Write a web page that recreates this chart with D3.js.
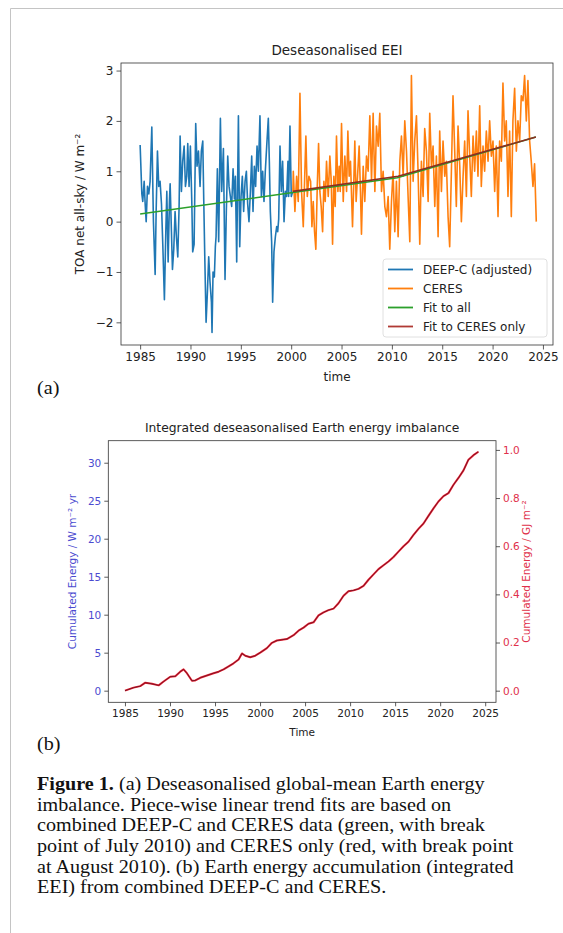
<!DOCTYPE html>
<html>
<head>
<meta charset="utf-8">
<style>
  body { margin: 0; background: #fff; }
  svg { display: block; }
  .tick text { font-family: "DejaVu Sans", sans-serif; fill: #222; }
  .domain { display: none; }
  .tick line { stroke: #333; stroke-width: 0.8px; }
  .caption { font-family: "Liberation Serif", "Times New Roman", serif; font-size: 18.5px; fill: #111; }
</style>
</head>
<body>
<div id="fig"></div>
<script src="https://cdn.jsdelivr.net/npm/d3@7"></script>
<script>
// DEEP-C (adjusted) deseasonalised EEI, [year, W m-2]
const deepc = [
  [1985.00,1.52],[1985.17,0.55],[1985.26,0.40],[1985.40,0.80],[1985.50,0.35],[1985.60,0.00],
  [1985.73,0.70],[1985.86,0.55],[1985.99,0.80],[1986.16,1.88],[1986.32,0.00],[1986.49,-1.05],
  [1986.59,0.20],[1986.72,1.40],[1986.85,0.70],[1986.98,0.80],[1987.12,0.35],[1987.25,-0.45],
  [1987.41,-1.55],[1987.55,-0.20],[1987.65,0.60],[1987.78,-0.80],[1987.91,0.40],[1987.98,0.75],
  [1988.11,-0.20],[1988.21,-0.95],[1988.34,-0.55],[1988.47,0.20],[1988.60,-0.30],[1988.74,-0.70],
  [1988.87,0.30],[1988.97,1.70],[1989.10,0.60],[1989.23,1.20],[1989.37,1.50],[1989.50,0.70],
  [1989.63,0.90],[1989.73,1.55],[1989.86,0.70],[1989.99,1.50],[1990.13,0.40],[1990.22,-0.60],
  [1990.36,-0.45],[1990.52,1.95],[1990.65,1.10],[1990.79,1.40],[1990.95,0.70],[1991.08,1.40],
  [1991.22,1.60],[1991.32,0.40],[1991.42,-0.70],[1991.55,-2.00],[1991.68,-1.40],[1991.81,-0.70],
  [1991.94,-1.20],[1992.08,-1.60],[1992.14,-2.20],[1992.24,-1.00],[1992.37,-1.10],[1992.47,-0.50],
  [1992.54,-0.30],[1992.67,1.05],[1992.80,-0.40],[1992.97,2.05],[1993.10,0.60],[1993.27,1.45],
  [1993.43,-1.15],[1993.56,0.20],[1993.70,1.30],[1993.83,0.70],[1993.96,0.50],[1994.09,0.30],
  [1994.23,1.05],[1994.36,0.45],[1994.46,0.90],[1994.59,-0.80],[1994.76,2.10],[1994.89,-0.50],
  [1995.02,0.50],[1995.15,0.90],[1995.28,0.20],[1995.42,0.80],[1995.55,1.00],[1995.68,0.35],
  [1995.81,0.00],[1995.95,0.60],[1996.08,1.30],[1996.21,0.20],[1996.34,1.10],[1996.47,0.70],
  [1996.61,1.50],[1996.74,1.00],[1996.90,2.10],[1997.04,0.50],[1997.17,1.00],[1997.30,0.40],
  [1997.43,1.00],[1997.57,1.50],[1997.73,2.05],[1997.83,1.20],[1997.93,0.20],[1998.06,-0.40],
  [1998.16,-1.60],[1998.29,-0.60],[1998.43,-0.30],[1998.56,-0.10],[1998.66,-0.20],[1998.76,0.05],
  [1998.89,1.50],[1999.02,0.60],[1999.15,1.20],[1999.29,0.00],[1999.42,0.60],[1999.55,0.50],
  [1999.68,1.20],[1999.75,0.50],[1999.88,1.90],[2000.01,0.50],[2000.15,0.60]
];

// CERES deseasonalised EEI, [year, W m-2]
const ceres = [
  [2000.17,0.60],[2000.21,1.00],[2000.37,0.20],[2000.54,0.90],[2000.70,0.40],[2000.87,2.55],
  [2001.03,0.60],[2001.20,-0.10],[2001.33,0.80],[2001.46,1.70],[2001.60,0.50],[2001.76,0.90],
  [2001.93,0.80],[2002.06,-0.10],[2002.19,0.40],[2002.32,-0.20],[2002.45,-0.55],[2002.59,0.70],
  [2002.72,1.55],[2002.85,0.60],[2002.98,0.30],[2003.12,-0.20],[2003.25,0.80],[2003.38,0.40],
  [2003.51,1.20],[2003.68,0.50],[2003.84,1.30],[2003.98,0.80],[2004.11,-0.45],[2004.24,0.90],
  [2004.37,0.30],[2004.50,1.70],[2004.64,0.60],[2004.77,1.10],[2004.87,0.60],[2005.00,1.95],
  [2005.17,0.40],[2005.33,1.30],[2005.50,0.60],[2005.63,1.80],[2005.76,0.90],[2005.89,1.20],
  [2006.09,-0.10],[2006.22,0.80],[2006.32,1.60],[2006.45,0.40],[2006.59,0.90],[2006.75,1.50],
  [2006.88,0.60],[2006.98,-0.25],[2007.15,1.10],[2007.31,0.40],[2007.48,1.30],[2007.64,1.00],
  [2007.81,2.10],[2007.98,0.80],[2008.14,2.15],[2008.31,0.60],[2008.47,1.90],[2008.64,1.50],
  [2008.80,2.15],[2008.97,0.60],[2009.13,1.00],[2009.30,0.30],[2009.46,0.10],[2009.63,0.50],
  [2009.79,-0.55],[2009.96,0.40],[2010.12,1.00],[2010.29,-0.20],[2010.45,0.80],[2010.62,-0.30],
  [2010.79,1.20],[2010.95,1.70],[2011.12,0.90],[2011.28,2.00],[2011.45,1.40],[2011.61,0.50],
  [2011.78,-0.40],[2011.94,2.90],[2012.11,0.80],[2012.27,1.60],[2012.44,2.10],[2012.60,1.00],
  [2012.77,-0.45],[2012.93,1.20],[2013.10,0.50],[2013.26,1.85],[2013.43,1.40],[2013.60,0.40],
  [2013.76,2.15],[2013.93,1.10],[2014.09,1.50],[2014.26,0.30],[2014.42,1.30],[2014.59,-0.30],
  [2014.75,1.80],[2014.92,0.60],[2015.08,1.60],[2015.25,0.90],[2015.41,1.20],[2015.58,0.10],
  [2015.74,-0.50],[2015.91,1.00],[2016.07,2.50],[2016.24,1.40],[2016.40,0.30],[2016.57,1.90],
  [2016.74,1.10],[2016.90,0.00],[2017.07,0.90],[2017.23,1.60],[2017.40,0.50],[2017.56,2.20],
  [2017.73,1.30],[2017.89,0.50],[2018.06,1.70],[2018.22,1.00],[2018.39,1.80],[2018.55,0.90],
  [2018.72,2.30],[2018.88,0.70],[2019.05,1.50],[2019.21,1.00],[2019.38,1.80],[2019.55,1.20],
  [2019.71,2.00],[2019.88,1.30],[2020.04,1.60],[2020.21,0.60],[2020.37,1.50],[2020.54,0.10],
  [2020.70,1.60],[2020.87,1.20],[2021.03,2.75],[2021.20,1.60],[2021.36,2.00],[2021.53,0.50],
  [2021.69,1.80],[2021.86,0.10],[2022.02,2.00],[2022.19,2.65],[2022.36,1.40],[2022.52,2.00],
  [2022.69,1.60],[2022.85,2.50],[2023.02,2.40],[2023.18,2.90],[2023.35,2.00],[2023.51,2.80],
  [2023.68,1.60],[2023.84,1.20],[2024.01,0.70],[2024.17,1.15],[2024.34,0.00]
];

// piece-wise linear fits
const fitAll = [[1985.00,0.15],[2010.54,0.87],[2024.30,1.68]];
const fitCeres = [[2000.17,0.60],[2010.62,0.90],[2024.30,1.68]];

// integrated EEI, [year, W m-2 yr]
const cumulated = [
  [1985.00,0.0],[1985.96,0.4],[1986.70,0.6],[1987.26,1.05],[1988.00,0.9],[1988.74,0.7],
  [1989.29,1.2],[1990.03,1.84],[1990.59,1.9],[1991.14,2.5],[1991.51,2.8],[1991.88,2.3],
  [1992.44,1.3],[1992.81,1.35],[1993.36,1.7],[1994.10,2.0],[1994.84,2.3],[1995.40,2.5],
  [1995.95,2.8],[1996.51,3.2],[1997.06,3.6],[1997.62,4.1],[1997.99,4.9],[1998.36,4.6],
  [1998.91,4.4],[1999.47,4.6],[2000.02,5.0],[2000.76,5.6],[2001.32,6.3],[2001.87,6.6],
  [2002.43,6.7],[2002.98,6.8],[2003.72,7.3],[2004.27,7.9],[2004.83,8.3],[2005.38,8.8],
  [2005.94,9.0],[2006.49,9.9],[2007.05,10.3],[2007.60,10.6],[2008.16,10.8],[2008.71,11.5],
  [2009.27,12.5],[2009.82,13.1],[2010.38,13.2],[2010.93,13.4],[2011.49,13.8],[2012.04,14.6],
  [2012.60,15.3],[2013.15,16.0],[2013.71,16.5],[2014.26,17.0],[2014.82,17.6],[2015.37,18.3],
  [2015.93,19.0],[2016.48,19.6],[2017.04,20.5],[2017.59,21.3],[2018.15,22.0],[2018.70,23.0],
  [2019.26,24.0],[2019.81,24.9],[2020.37,25.6],[2020.92,26.0],[2021.48,27.1],[2022.03,28.0],
  [2022.59,29.0],[2023.14,30.4],[2023.70,31.0],[2024.25,31.45]
];

const yearTicks = [1985, 1990, 1995, 2000, 2005, 2010, 2015, 2020, 2025];
const eeiTicks = [-2, -1, 0, 1, 2, 3];
const cumTicks = [0, 5, 10, 15, 20, 25, 30];
const gjTicks = [0, 0.2, 0.4, 0.6, 0.8, 1.0];
const legendNames = ["DEEP-C (adjusted)", "CERES", "Fit to all", "Fit to CERES only"];
const legendColors = ["#1f77b4", "#ff7f0e", "#2ca02c", "#b03a34"];
const captionLines = [
  ["Figure 1.", " (a) Deseasonalised global-mean Earth energy"],
  ["", "imbalance. Piece-wise linear trend fits are based on"],
  ["", "combined DEEP-C and CERES data (green, with break"],
  ["", "point of July 2010) and CERES only (red, with break point"],
  ["", "at August 2010). (b) Earth energy accumulation (integrated"],
  ["", "EEI) from combined DEEP-C and CERES."]
];
// W m-2 yr -> GJ m-2
const toGJ = 365.25 * 86400 / 1e9;

const W = 563, H = 933;
const svg = d3.select("#fig").append("svg").attr("width", W).attr("height", H);
const font = "DejaVu Sans, sans-serif";

// page frame
svg.append("path").attr("d", "M10.5,933 V8.5 H563")
  .attr("fill", "none").attr("stroke", "#c4c4c4").attr("stroke-width", 1);

/// ---------- panel (a) ----------
const a = { left: 121, right: 553, top: 63, bottom: 345 };
const xa = d3.scaleLinear().domain([1983.1, 2026.0]).range([a.left, a.right]);
const ya = d3.scaleLinear().domain([-2.45, 3.15]).range([a.bottom, a.top]);

svg.append("g").attr("transform", `translate(0,${a.bottom})`)
  .call(d3.axisBottom(xa).tickValues(yearTicks).tickFormat(d3.format("d")).tickSize(4.5).tickPadding(3))
  .selectAll("text").style("font-size", "12px");
svg.append("g").attr("transform", `translate(${a.left},0)`)
  .call(d3.axisLeft(ya).tickValues(eeiTicks).tickFormat(d => d < 0 ? "\u2212" + Math.abs(d) : d).tickSize(4.5).tickPadding(3))
  .selectAll("text").style("font-size", "12px");

const lineA = d3.line().x(d => xa(d[0])).y(d => ya(d[1]));
svg.append("clipPath").attr("id", "clipA").append("rect")
  .attr("x", a.left).attr("y", a.top).attr("width", a.right - a.left).attr("height", a.bottom - a.top);

const ga = svg.append("g").attr("clip-path", "url(#clipA)");
ga.append("path").datum(deepc).attr("d", lineA)
  .attr("fill", "none").attr("stroke", legendColors[0]).attr("stroke-width", 1.6).attr("stroke-linejoin", "round");
ga.append("path").datum(ceres).attr("d", lineA)
  .attr("fill", "none").attr("stroke", legendColors[1]).attr("stroke-width", 1.6).attr("stroke-linejoin", "round");
ga.append("path").datum(fitAll).attr("d", lineA)
  .attr("fill", "none").attr("stroke", legendColors[2]).attr("stroke-width", 1.6);
ga.append("path").datum(fitCeres).attr("d", lineA)
  .attr("fill", "none").attr("stroke", "#8e2c22").attr("stroke-width", 1.6);

svg.append("rect").attr("x", a.left).attr("y", a.top)
  .attr("width", a.right - a.left).attr("height", a.bottom - a.top)
  .attr("fill", "none").attr("stroke", "#333").attr("stroke-width", 0.8);

svg.append("text").attr("x", (a.left + a.right) / 2).attr("y", 55)
  .attr("text-anchor", "middle").attr("font-family", font).attr("font-size", 13.5).attr("fill", "#222")
  .text("Deseasonalised EEI");
svg.append("text").attr("x", (a.left + a.right) / 2).attr("y", 381)
  .attr("text-anchor", "middle").attr("font-family", font).attr("font-size", 12).attr("fill", "#222")
  .text("time");
svg.append("text").attr("transform", `translate(84,${(a.top + a.bottom) / 2}) rotate(-90)`)
  .attr("text-anchor", "middle").attr("font-family", font).attr("font-size", 12).attr("fill", "#222")
  .text("TOA net all-sky / W m\u207B\u00B2");

// legend
const leg = svg.append("g").attr("transform", "translate(383,259)");
leg.append("rect").attr("width", 164).attr("height", 78).attr("rx", 3)
  .attr("fill", "#fff").attr("fill-opacity", 0.85).attr("stroke", "#d8d8d8").attr("stroke-width", 0.8);
legendNames.forEach((n, i) => {
  const yy = 10.5 + i * 19;
  leg.append("line").attr("x1", 5).attr("x2", 30).attr("y1", yy).attr("y2", yy)
    .attr("stroke", legendColors[i]).attr("stroke-width", 1.8);
  leg.append("text").attr("x", 40).attr("y", yy + 4.3)
    .attr("font-family", font).attr("font-size", 12).attr("fill", "#222").text(n);
});

/// ---------- panel (b) ----------
const b = { left: 108.3, right: 496, top: 440.7, bottom: 702.3 };
const xb = d3.scaleLinear().domain([1983.15, 2026.2]).range([b.left, b.right]);
const yb = d3.scaleLinear().domain([-1.53, 32.9]).range([b.bottom, b.top]);
const yb2 = d3.scaleLinear().domain([-1.53 * toGJ, 32.9 * toGJ]).range([b.bottom, b.top]);

svg.append("g").attr("transform", `translate(0,${b.bottom})`)
  .call(d3.axisBottom(xb).tickValues(yearTicks).tickFormat(d3.format("d")).tickSize(4).tickPadding(3))
  .selectAll("text").style("font-size", "10.5px");
svg.append("g").attr("transform", `translate(${b.left},0)`)
  .call(d3.axisLeft(yb).tickValues(cumTicks).tickSize(4).tickPadding(3))
  .selectAll("text").style("font-size", "10.5px").style("fill", "#4b4bd0");
svg.append("g").attr("transform", `translate(${b.right},0)`)
  .call(d3.axisRight(yb2).tickValues(gjTicks).tickFormat(d3.format(".1f")).tickSize(4).tickPadding(3))
  .selectAll("text").style("font-size", "10.5px").style("fill", "#e0304a");

const lineB = d3.line().x(d => xb(d[0])).y(d => yb(d[1]));
svg.append("path").datum(cumulated).attr("d", lineB)
  .attr("fill", "none").attr("stroke", "#ee2233").attr("stroke-width", 2).attr("stroke-linejoin", "round");
svg.append("path").datum(cumulated).attr("d", lineB)
  .attr("fill", "none").attr("stroke", "#3a0d1e").attr("stroke-width", 0.8).attr("stroke-opacity", 0.8);

svg.append("rect").attr("x", b.left).attr("y", b.top)
  .attr("width", b.right - b.left).attr("height", b.bottom - b.top)
  .attr("fill", "none").attr("stroke", "#333").attr("stroke-width", 0.8);

svg.append("text").attr("x", (b.left + b.right) / 2).attr("y", 432)
  .attr("text-anchor", "middle").attr("font-family", font).attr("font-size", 12.3).attr("fill", "#222")
  .text("Integrated deseasonalised Earth energy imbalance");
svg.append("text").attr("x", (b.left + b.right) / 2).attr("y", 736)
  .attr("text-anchor", "middle").attr("font-family", font).attr("font-size", 10.5).attr("fill", "#222")
  .text("Time");
svg.append("text").attr("transform", `translate(76,${(b.top + b.bottom) / 2}) rotate(-90)`)
  .attr("text-anchor", "middle").attr("font-family", font).attr("font-size", 10.5).attr("fill", "#4b4bd0")
  .text("Cumulated Energy / W m\u207B\u00B2 yr");
svg.append("text").attr("transform", `translate(530,${(b.top + b.bottom) / 2}) rotate(-90)`)
  .attr("text-anchor", "middle").attr("font-family", font).attr("font-size", 10.5).attr("fill", "#e0304a")
  .text("Cumulated Energy / GJ m\u207B\u00B2");

/// ---------- panel letters and caption (serif text stretched a little to match the journal face) ----------
const serif = svg.append("g").attr("transform", "translate(37,0) scale(1.09,1)");
serif.append("text").attr("class", "caption").attr("x", 0).attr("y", 394).text("(a)");
serif.append("text").attr("class", "caption").attr("x", 0).attr("y", 750).text("(b)");
captionLines.forEach((l, i) => {
  const t = serif.append("text").attr("class", "caption").attr("x", 0).attr("y", 790 + i * 20.7);
  if (l[0]) t.append("tspan").attr("font-weight", "bold").text(l[0]);
  t.append("tspan").text(l[1]);
});
</script>
</body>
</html>
